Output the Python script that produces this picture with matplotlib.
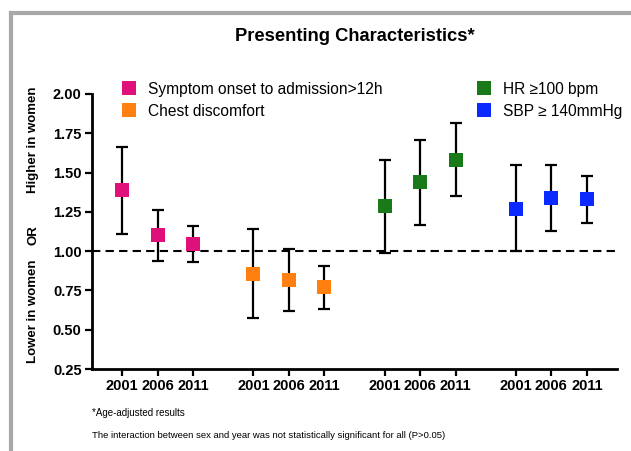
import matplotlib.pyplot as plt
from matplotlib.lines import Line2D

plt.rcParams["font.family"] = ["Liberation Sans", "DejaVu Sans"]

# data
years = ["2001", "2006", "2011"]
groups = ["Symptom onset to admission>12h", "Chest discomfort", "HR \u2265100 bpm", "SBP \u2265 140mmHg"]
colors = ["#e0107a", "#ff7f0f", "#1a7a1a", "#0a2aff"]

or_vals = [
    [1.39, 1.10, 1.045],
    [0.855, 0.815, 0.775],
    [1.285, 1.44, 1.58],
    [1.27, 1.335, 1.33],
]
ci_low = [
    [1.11, 0.94, 0.93],
    [0.575, 0.62, 0.635],
    [0.99, 1.165, 1.35],
    [1.00, 1.13, 1.18],
]
ci_high = [
    [1.66, 1.26, 1.16],
    [1.14, 1.015, 0.905],
    [1.58, 1.71, 1.815],
    [1.545, 1.55, 1.48],
]

group_step = 3.7

fig = plt.figure(figsize=(6.31, 4.51), dpi=100)
ax = fig.add_axes([0.1458, 0.1818, 0.832, 0.6098])

xticks, xlabels = [], []
handles = []
for g in range(len(groups)):
    xs = [g * group_step + i for i in range(3)]
    lo = [v - l for v, l in zip(or_vals[g], ci_low[g])]
    hi = [h - v for v, h in zip(or_vals[g], ci_high[g])]
    ax.errorbar(xs, or_vals[g], yerr=[lo, hi], fmt="none", ecolor="black",
                elinewidth=1.6, capsize=4, capthick=1.6, zorder=2)
    h, = ax.plot(xs, or_vals[g], "s", color=colors[g], markersize=9.5,
                 markeredgewidth=0, zorder=3, label=groups[g])
    handles.append(h)
    xticks += xs
    xlabels += years

ax.axhline(1.0, color="black", linestyle=(0, (4, 2.5)), linewidth=1.5, zorder=1)

ax.set_xlim(-0.85, 3 * group_step + 2.85)
ax.set_ylim(0.25, 2.0)
ax.set_yticks([0.25, 0.5, 0.75, 1.0, 1.25, 1.5, 1.75, 2.0])
ax.set_yticklabels(["%.2f" % v for v in ax.get_yticks()], fontweight="bold", fontsize=10.5)
ax.set_xticks(xticks)
ax.set_xticklabels(xlabels, fontweight="bold", fontsize=10.5)
ax.tick_params(direction="out", length=5, width=1.6, pad=2.5)

for s in ["top", "right"]:
    ax.spines[s].set_visible(False)
for s in ["left", "bottom"]:
    ax.spines[s].set_linewidth(2)

# legend in two blocks
leg1 = ax.legend(handles=handles[:2], loc="upper left", bbox_to_anchor=(0.043, 1.068),
                 frameon=False, fontsize=11.2, handlelength=1, handletextpad=0.75,
                 labelspacing=0.45, borderaxespad=0)
ax.add_artist(leg1)
ax.legend(handles=handles[2:], loc="upper left", bbox_to_anchor=(0.72, 1.068),
          frameon=False, fontsize=11.2, handlelength=1, handletextpad=0.75,
          labelspacing=0.45, borderaxespad=0)

fig.text(0.563, 0.918, "Presenting Characteristics*", ha="center", va="center",
         fontsize=13.2, fontweight="bold")

# y axis label pieces
fig.text(0.053, 0.69, "Higher in women", rotation=90, ha="center", va="center",
         fontsize=9.5, fontweight="bold")
fig.text(0.053, 0.478, "OR", rotation=90, ha="center", va="center",
         fontsize=9.5, fontweight="bold")
fig.text(0.053, 0.31, "Lower in women", rotation=90, ha="center", va="center",
         fontsize=9.5, fontweight="bold")

fig.text(0.146, 0.085, "*Age-adjusted results", fontsize=7, va="center")
fig.text(0.146, 0.034, "The interaction between sex and year was not statistically significant for all (P>0.05)",
         fontsize=6.8, va="center")

# grey frame around the panel
fig.add_artist(Line2D([0.018, 1.0], [0.971, 0.971], color="#a8a8a8", linewidth=3))
fig.add_artist(Line2D([0.018, 0.018], [0.0, 0.971], color="#a8a8a8", linewidth=3))

fig.savefig("out.png", dpi=100)
